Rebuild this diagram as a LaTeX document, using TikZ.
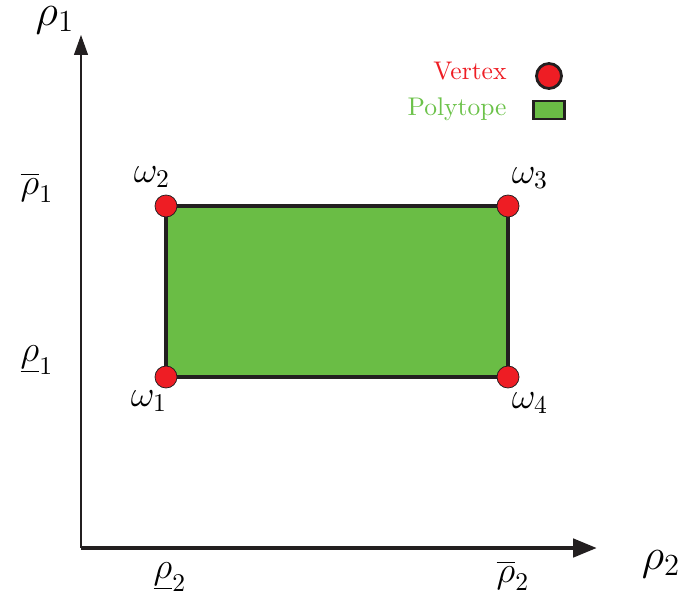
\documentclass[tikz,border=0pt]{standalone}
\usetikzlibrary{arrows.meta}
\definecolor{vred}{HTML}{EE1D24}
\definecolor{pgreen}{HTML}{6ABD45}
\definecolor{lgreen}{HTML}{6CC24A}
\definecolor{ink}{HTML}{231F20}
\begin{document}
\begin{tikzpicture}[x=0.392pt,y=-0.392pt,
  vertexdot/.style={circle,fill=vred,draw=ink,line width=0.3pt,minimum size=22*0.392pt,inner sep=0pt},
  mlabel/.style={font=\Large,inner sep=0pt},
  alabel/.style={font=\LARGE,inner sep=0pt},
  legtext/.style={font=\normalsize,anchor=east,inner sep=0pt}]
\useasboundingbox (0,0) rectangle (682,603);
% axes
\coordinate (O) at (81,548);
\coordinate (ytip) at (81,35);
\coordinate (xtip) at (597,548);
\draw[ink,line width=0.45pt,-{Triangle[length=20*0.392pt,width=14*0.392pt]}] (O) -- (ytip);
\draw[ink,line width=1.85pt,-{Triangle[length=24*0.392pt,width=18*0.392pt]}] (O) -- (xtip);
% polytope
\coordinate (w1) at (166,377);
\coordinate (w2) at (166,206);
\coordinate (w3) at (508,206);
\coordinate (w4) at (508,377);
\draw[ink,fill=pgreen,line width=1.2pt] (w1) -- (w2) -- (w3) -- (w4) -- cycle;
\node[vertexdot] (v1) at (w1) {};
\node[vertexdot] (v2) at (w2) {};
\node[vertexdot] (v3) at (w3) {};
\node[vertexdot] (v4) at (w4) {};
% vertex labels
\node[mlabel] (l2) at (152,177) {$\omega_2$};
\node[mlabel] (l3) at (530,178) {$\omega_3$};
\node[mlabel] (l1) at (149,401) {$\omega_1$};
\node[mlabel] (l4) at (530,403) {$\omega_4$};
% axis labels
\node[alabel] (r1) at (55,20) {$\rho_1$};
\node[alabel] (r2) at (661,564) {$\rho_2$};
\node[mlabel] (r1b) at (37,188) {$\overline{\rho}_1$};
\node[mlabel] (r1u) at (37,360) {$\underline{\rho}_1$};
\node[mlabel] (r2u) at (170,577) {$\underline{\rho}_2$};
\node[mlabel] (r2b) at (513,576) {$\overline{\rho}_2$};
% legend
\node[legtext,text=vred] (lv) at (507,71) {Vertex};
\node[legtext,text=lgreen] (lp) at (507,109) {Polytope};
\node[circle,fill=vred,draw=ink,line width=1.1pt,minimum size=25*0.392pt,inner sep=0pt] (cv) at (549,76) {};
\node[rectangle,fill=pgreen,draw=ink,line width=1.1pt,minimum width=31*0.392pt,minimum height=18*0.392pt,inner sep=0pt] (bp) at (549,110) {};
\end{tikzpicture}
\end{document}
